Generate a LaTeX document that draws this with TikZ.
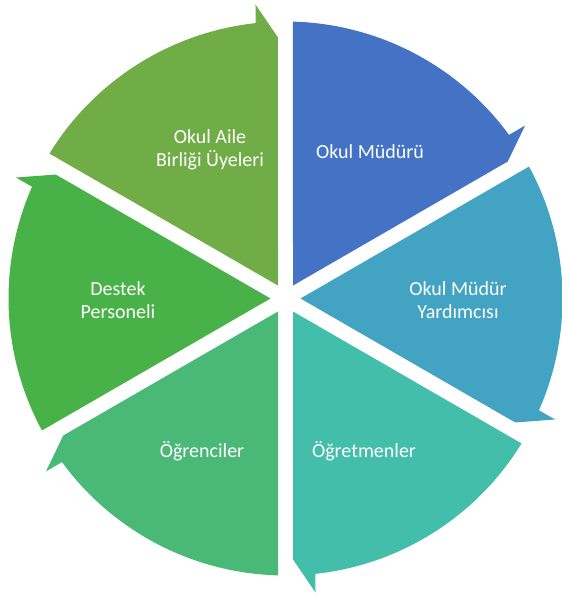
\documentclass[tikz,border=0pt]{standalone}
\usepackage{fontspec}
\setmainfont{Carlito}
\usetikzlibrary{calc}
\definecolor{cA}{RGB}{68,114,196}
\definecolor{cB}{RGB}{67,163,195}
\definecolor{cC}{RGB}{67,190,170}
\definecolor{cD}{RGB}{74,185,120}
\definecolor{cE}{RGB}{72,178,72}
\definecolor{cF}{RGB}{112,173,71}
\tikzset{
  lbl/.style={text=white, font=\fontsize{20}{23}\selectfont, align=center, inner sep=0pt},
}
\newcommand{\segm}[2]{% #1 = end angle, #2 = colour
  \fill[#2] (#1+30:15pt) -- (#1+58.45:277pt)
    arc[start angle=#1+58.45, end angle=#1+6.2, radius=277pt]
    -- (#1+5.83:295.5pt) -- (#1+1.65:261.1pt) -- cycle;
}
\begin{document}
\begin{tikzpicture}[x=1pt,y=1pt]
\useasboundingbox (0,0) rectangle (562,-595);
\begin{scope}[shift={(285.5,-298.5)}]
\segm{30}{cA}
\segm{-30}{cB}
\segm{-90}{cC}
\segm{-150}{cD}
\segm{150}{cE}
\segm{90}{cF}
\end{scope}
\node[lbl] (t1) at (370,-152) {Okul Müdürü};
\node[lbl] (t2) at (458,-300) {Okul Müdür\\Yardımcısı};
\node[lbl] (t3) at (364,-451) {Öğretmenler};
\node[lbl] (t4) at (202,-451) {Öğrenciler};
\node[lbl] (t5) at (118,-300) {Destek\\Personeli};
\node[lbl] (t6) at (210,-150) {Okul Aile\\Birliği Üyeleri};
\end{tikzpicture}
\end{document}
